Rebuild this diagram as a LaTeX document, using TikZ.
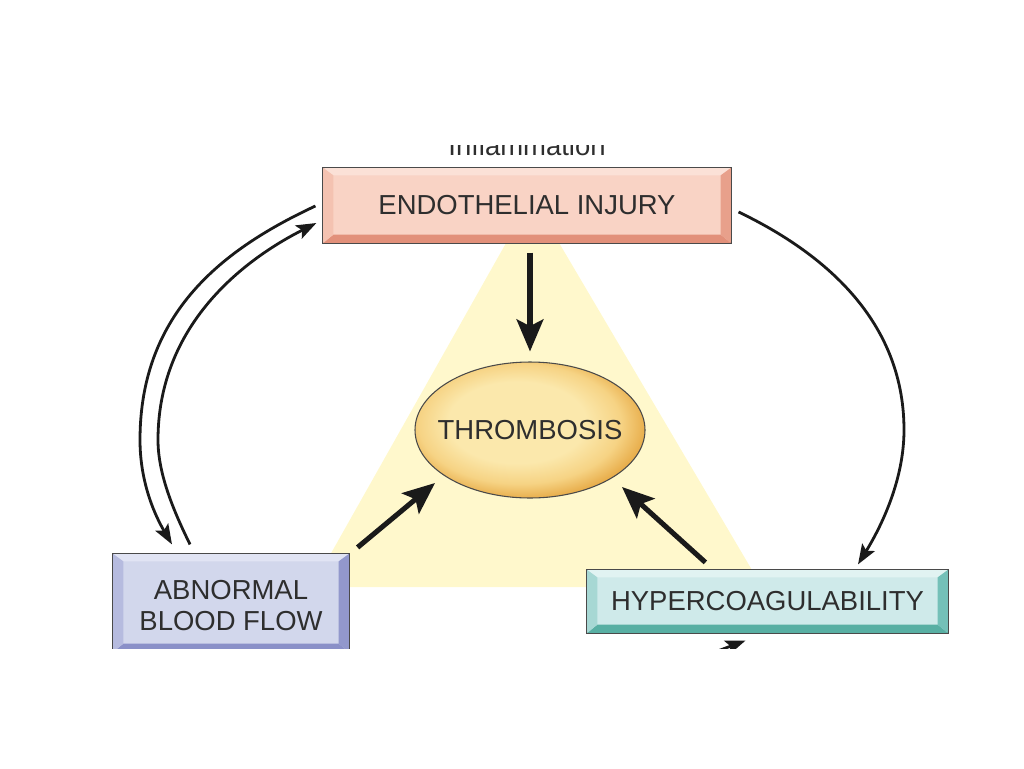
\documentclass[tikz,border=0pt]{standalone}
\usepackage{fontspec}
\setmainfont{Liberation Sans}
\usepackage{tikz}
\usetikzlibrary{arrows.meta,shapes.geometric,calc}
\definecolor{txtgray}{HTML}{2E2E2E}
\definecolor{boxgray}{HTML}{4A4A4A}
\definecolor{arrowblk}{HTML}{1A1A1A}
\definecolor{trifill}{HTML}{FFF8CC}
\definecolor{endoface}{HTML}{F9D3C5}
\definecolor{endotop}{HTML}{FBE1D7}
\definecolor{endoleft}{HTML}{F4C2B1}
\definecolor{endoright}{HTML}{E8A08B}
\definecolor{endobot}{HTML}{E2907A}
\definecolor{flowface}{HTML}{D2D7EC}
\definecolor{flowtop}{HTML}{E1E4F4}
\definecolor{flowleft}{HTML}{B6BBDF}
\definecolor{flowright}{HTML}{9298CC}
\definecolor{flowbot}{HTML}{8A90C8}
\definecolor{hypface}{HTML}{CFEAEA}
\definecolor{hyptop}{HTML}{E1F3F2}
\definecolor{hypleft}{HTML}{A7D8D4}
\definecolor{hypright}{HTML}{74C0B8}
\definecolor{hypbot}{HTML}{58AFA3}
\definecolor{thrin}{HTML}{FBE8AC}
\definecolor{thrmid}{HTML}{F6D384}
\definecolor{throut}{HTML}{E8AE4C}
\pgfdeclareradialshading{thrshade}{\pgfpoint{-4bp}{4bp}}{color(0bp)=(thrin); color(15bp)=(thrin); color(22bp)=(thrmid); color(27bp)=(throut); color(50bp)=(throut)}
\newcommand{\boxfont}{\fontsize{20.6}{23}\selectfont}
% bevel edges of a box node: name, top, left, right, bottom
\newcommand{\bevelbox}[5]{%
  \fill[#2] (#1.north west) -- (#1.north east) -- ([shift={(-11,8)}]#1.north east) -- ([shift={(11,8)}]#1.north west) -- cycle;
  \fill[#5] (#1.south west) -- (#1.south east) -- ([shift={(-11,-9)}]#1.south east) -- ([shift={(11,-9)}]#1.south west) -- cycle;
  \fill[#3] (#1.north west) -- ([shift={(11,8)}]#1.north west) -- ([shift={(11,-9)}]#1.south west) -- (#1.south west) -- cycle;
  \fill[#4] (#1.north east) -- ([shift={(-11,8)}]#1.north east) -- ([shift={(-11,-9)}]#1.south east) -- (#1.south east) -- cycle;
  \draw[draw=boxgray, line width=0.9pt] (#1.north west) rectangle (#1.south east);
}
\tikzset{
box/.style={rectangle, draw=boxgray, line width=0.9pt, text=txtgray, font=\boxfont, inner sep=0pt, align=center},
fatarrow/.style={draw=arrowblk, line width=3.8pt, -{Stealth[length=24pt,width=20pt,inset=5pt]}},
thinarrow/.style={draw=arrowblk, line width=2.1pt, -{Stealth[length=15pt,width=11pt,inset=3pt]}},
}

\begin{document}
\begin{tikzpicture}[x=0.75pt,y=0.75pt,yscale=-1,xscale=1]
		\useasboundingbox (0,0) rectangle (1024,768);
		\clip (0,145) rectangle (1024,648);
		
		% Triangle
		\fill [trifill] (532,197) -- (312,587) -- (762,587) -- cycle;
		
		% Text Node
		\node [anchor=base, font=\boxfont, text=txtgray] (infl) at (527,155) {Inflammation};
		% Text Node
		\node [box, fill=endoface, minimum width=306pt, minimum height=56.25pt] (endo) at (527,205.5) {ENDOTHELIAL INJURY};
		\bevelbox{endo}{endotop}{endoleft}{endoright}{endobot}
		% Text Node
		\node [box, fill=flowface, minimum width=177pt, minimum height=73.5pt] (flow) at (231,603) {\raisebox{-9.6pt}[0pt][0pt]{\begin{tabular}{@{}c@{}}ABNORMAL\\BLOOD FLOW\end{tabular}}};
		\bevelbox{flow}{flowtop}{flowleft}{flowright}{flowbot}
		% Text Node
		\node [box, fill=hypface, minimum width=270.75pt, minimum height=47.25pt] (hyp) at (767.5,601.5) {HYPERCOAGULABILITY};
		\bevelbox{hyp}{hyptop}{hypleft}{hypright}{hypbot}
		% Text Node
		\node [ellipse, draw=boxgray, line width=0.8pt, shading=thrshade, minimum width=172.5pt, minimum height=102pt, inner sep=0pt, label={[text=txtgray, font=\boxfont]center:THROMBOSIS}] (thr) at (530,430) {};
		
		% Connection
		\draw [fatarrow] ([shift={(3,9)}]endo.south) -- ([shift={(0,-10)}]thr.north);
		% Connection
		\draw [fatarrow] ([shift={(8,-6)}]flow.north east) -- ([shift={(-95,53)}]thr.center);
		% Connection
		\draw [fatarrow] ([shift={(119,-7)}]hyp.north west) -- ([shift={(92,57)}]thr.center);
		
		% Connection
		\draw [thinarrow] ([shift={(-7,0.5)}]endo.west) .. controls +(-90,42) and +(0,-129) .. (140,440) .. controls +(0,45) and +(-15.3,-26) .. ([shift={(-59,-9)}]flow.north);
		% Connection
		\draw [thinarrow] ([shift={(-41,-9)}]flow.north) .. controls +(-15.4,-31.5) and +(0,35) .. (158,440) .. controls +(0,-110) and +(-80,40.5) .. ([shift={(-6,17.5)}]endo.west);
		% Connection
		\draw [thinarrow] ([shift={(7,6.5)}]endo.east) .. controls +(77,37) and +(0,-115) .. (904,430) .. controls +(0,50) and +(23.4,-38.2) .. ([shift={(90.5,-5)}]hyp.north);
		% Connection
		\coordinate (below) at (640,680);
		\draw [thinarrow] (below) -- ([shift={(-22,7)}]hyp.south);
		
		
		\end{tikzpicture}
\end{document}
